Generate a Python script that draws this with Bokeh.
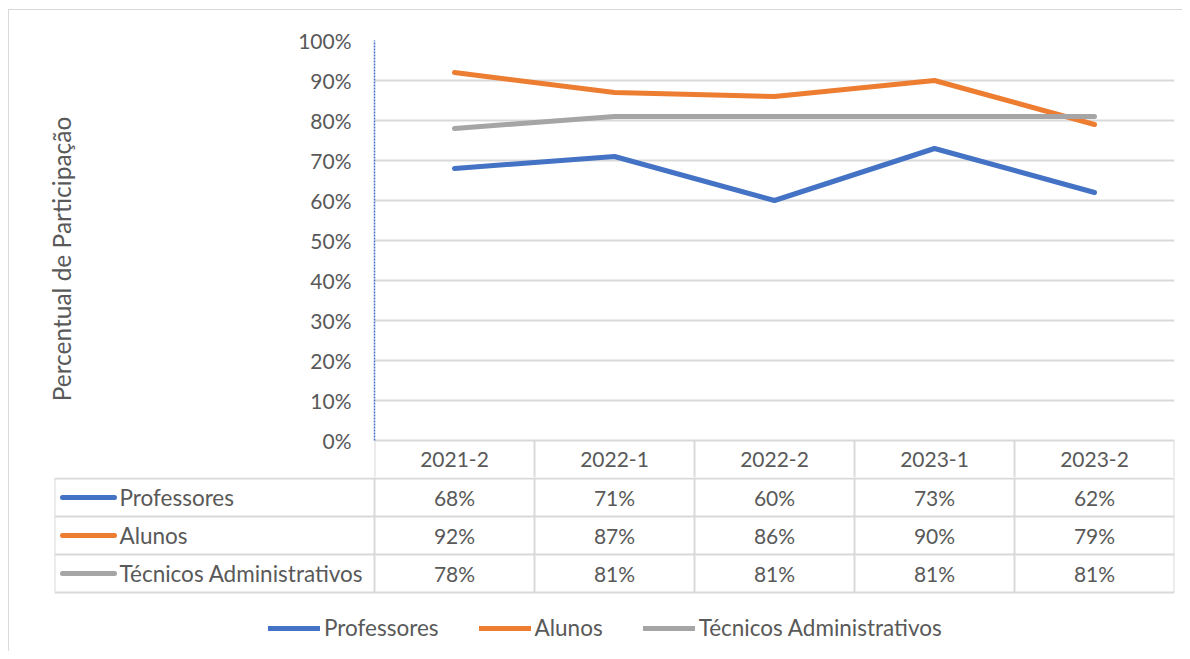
from bokeh.plotting import figure
from bokeh.layouts import column
from bokeh.models import Range1d, NumeralTickFormatter, FixedTicker, Legend, LegendItem
from bokeh.embed import file_html
from bokeh.resources import INLINE
from bokeh.core.properties import value

categories = ["2021-2", "2022-1", "2022-2", "2023-1", "2023-2"]
professores = [0.68, 0.71, 0.60, 0.73, 0.62]
alunos = [0.92, 0.87, 0.86, 0.90, 0.79]
tecnicos = [0.78, 0.81, 0.81, 0.81, 0.81]
series_names = ["Professores", "Alunos", "Técnicos Administrativos"]
y_ticks = [0, 0.1, 0.2, 0.3, 0.4, 0.5, 0.6, 0.7, 0.8, 0.9, 1.0]

colors = ["#4472C4", "#ED7D31", "#A5A5A5"]
series = [professores, alunos, tecnicos]
FONT = "Lato"
TXT = "#595959"
GRID = "#D9D9D9"
FS_NUM = "21px"
FS_WORD = "22.5px"
FS_TITLE = "24.5px"

W = 1173
n = len(categories)
xc = [i + 0.5 for i in range(n)]          # category centres
ROW = 38 / 400                              # table row height in chart y-units

# ---------- chart (plot area + table header row) ----------
p = figure(width=W, height=467, x_range=Range1d(0, n),
           y_range=Range1d(-37 / 400, 1.0), x_axis_type=None,
           output_backend="svg", toolbar_location=None,
           min_border_left=365, min_border_right=8, min_border_top=30, min_border_bottom=0)
p.frame_align = False
p.outline_line_color = None
p.background_fill_color = "white"
p.border_fill_color = "white"
p.ygrid.grid_line_color = GRID
p.ygrid.grid_line_width = 2
p.yaxis.ticker = FixedTicker(ticks=y_ticks)
p.yaxis.bounds = (0, 1)
p.yaxis.formatter = NumeralTickFormatter(format="0%")
p.yaxis.major_tick_line_color = None
p.yaxis.minor_tick_line_color = None
p.yaxis.major_label_standoff = 17
p.yaxis.major_label_text_font = FONT
p.yaxis.major_label_text_font_size = FS_NUM
p.yaxis.major_label_text_color = TXT
p.yaxis.axis_line_color = "#4472C4"
p.yaxis.axis_line_dash = "2 1"
p.yaxis.axis_line_width = 1.5
p.yaxis.axis_label = "Percentual de Participação"
p.yaxis.axis_label_text_font = FONT
p.yaxis.axis_label_text_font_size = FS_TITLE
p.yaxis.axis_label_text_font_style = "normal"
p.yaxis.axis_label_text_color = TXT
p.yaxis.axis_label_standoff = 219

for vals, c in zip(series, colors):
    p.line(x=xc, y=vals, line_color=c, line_width=5, line_cap="round", line_join="round")

# header row of the data table
vx = list(range(0, n + 1))
p.segment(x0=vx, x1=vx, y0=[0] * len(vx), y1=[-ROW] * len(vx), line_color=GRID, line_width=2)
p.text(x=xc, y=[-ROW / 2] * n, text=categories,
       text_align="center", text_baseline="middle", text_font=value(FONT),
       text_font_size=FS_NUM, text_color=TXT)

# ---------- data table body + legend ----------
nrows = len(series)
t_top = -1 + 1 / 38
t = figure(width=W, height=174, x_range=Range1d(-2, n), y_range=Range1d(t_top - 174 / 38, t_top),
           x_axis_type=None, y_axis_type=None, output_backend="svg", toolbar_location=None,
           min_border_left=45, min_border_right=8, min_border_top=0, min_border_bottom=0)
t.frame_align = False
t.outline_line_color = None
t.xgrid.visible = False
t.ygrid.visible = False
t.border_fill_color = "white"

hy = [-r for r in range(1, nrows + 2)]
t.segment(x0=[-2] * len(hy), x1=[n] * len(hy), y0=hy, y1=hy, line_color=GRID, line_width=2)
t.segment(x0=vx, x1=vx, y0=[t_top] * len(vx), y1=[-(nrows + 1)] * len(vx), line_color=GRID, line_width=2)
t.segment(x0=[-2], x1=[-2], y0=[-1], y1=[-(nrows + 1)], line_color=GRID, line_width=2)

items = []
for r, (name, vals, c) in enumerate(zip(series_names, series, colors)):
    yr = -(r + 1.5)
    rend = t.line(x=[-1.95, -1.625], y=[yr, yr], line_color=c, line_width=5, line_cap="round")
    items.append(LegendItem(label=name, renderers=[rend]))
    t.text(x=[-1.594], y=[yr], text=[name], text_align="left", text_baseline="middle",
           text_font=value(FONT), text_font_size=FS_WORD, text_color=TXT)
    t.text(x=xc, y=[yr] * n, text=[f"{round(v * 100)}%" for v in vals],
           text_align="center", text_baseline="middle", text_font=value(FONT),
           text_font_size=FS_NUM, text_color=TXT)

legend = Legend(items=items, orientation="horizontal", location=(214, 10),
                glyph_width=52, glyph_height=20, label_standoff=4, spacing=40,
                padding=0, margin=0, border_line_color=None, background_fill_alpha=0,
                label_text_font=FONT, label_text_font_size=FS_WORD, label_text_color=TXT)
t.add_layout(legend)

layout = column(p, t, spacing=0,
                styles={"margin-left": "8px", "margin-top": "9px",
                        "border-left": "1px solid #D9D9D9", "border-top": "1px solid #D9D9D9"})

open("out.html", "w").write(file_html(layout, INLINE))
